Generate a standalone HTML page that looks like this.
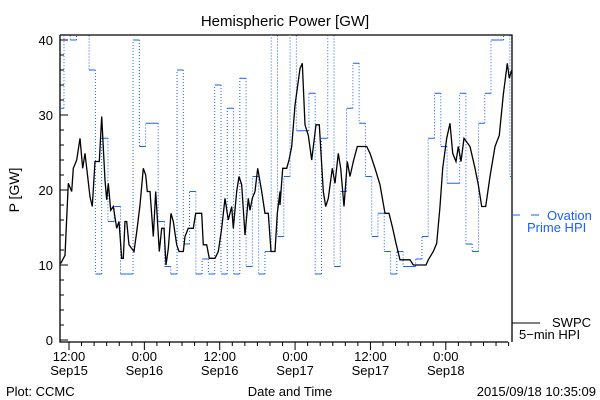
<!DOCTYPE html>
<html><head><meta charset="utf-8"><style>
html,body{margin:0;padding:0;background:#fff;}
svg{display:block;font-family:"Liberation Sans",sans-serif;}
</style></head><body>
<svg id="chart" width="600" height="400" viewBox="0 0 600 400" xmlns="http://www.w3.org/2000/svg">
<rect x="0" y="0" width="600" height="400" fill="#fff"/>
<text x="285" y="26" font-size="15" text-anchor="middle">Hemispheric Power [GW]</text>
<text x="0" y="0" font-size="14" text-anchor="middle" transform="translate(19,190) rotate(-90)">P [GW]</text>
<text x="290" y="396" font-size="13" text-anchor="middle">Date and Time</text>
<text x="6" y="396" font-size="13">Plot: CCMC</text>
<text x="596" y="396" font-size="13" text-anchor="end">2015/09/18 10:35:09</text>
<g id="axes"></g>
<g id="hpi"></g>
<g id="swpc"></g>
<g>
<line x1="512" y1="215" x2="520" y2="215" stroke="#1a5fff" stroke-width="1"/>
<line x1="531" y1="215" x2="539" y2="215" stroke="#1a5fff" stroke-width="1"/>
<text x="547" y="220" font-size="13" fill="#1a5fff">Ovation</text>
<text x="527" y="232" font-size="13" fill="#1a5fff">Prime HPI</text>
</g>
<g>
<line x1="512" y1="323" x2="540" y2="323" stroke="#000" stroke-width="1"/>
<text x="552" y="327" font-size="13">SWPC</text>
<text x="519" y="339" font-size="13">5−min HPI</text>
</g>
</svg>
<script>
// hours relative to 12:00 Sep15
const hpiStart = -1.8;
const hpiValues = [30.9,41,40,41,41,36,8.8,26.9,15.8,17.8,8.8,8.8,40,25.8,28.9,28.9,15.8,9.8,8.8,36,12.8,19.8,8.8,10.8,8.8,34,8.8,30.9,8.8,34.9,9.8,21.8,8.8,11.8,41,13.8,21.8,41,27.9,27.9,32.9,8.8,26.9,41,9.8,19.8,30.9,36.9,28.9,21.8,13.8,16.9,11.8,8.8,11.8,9.8,9.8,10.8,13.8,26.9,32.9,25.8,20.9,20.9,32.9,12.8,11.8,28.9,32.9,40,40,41,21.8];
const swpcHours1 = [62,75,85,95,100,110,120,128,135,150,157,165,178,185,195,200,205,212,220,230,237,245,250,255,260,267,275,282,290,300,310,317,322,330,340,347,358,365,372,378,385,393,400,410,417,430,435,445,460,467,485,490,500,508,525,535,545,555,565,575,580,590,597,605,615,625,630,637,645,653,665,675,685,693,705,712,720];
const swpcVals1 = [10.2,11.3,20.9,19.8,22.9,24,26.9,22.9,24.9,19.1,17.8,23.8,23.8,29.8,21.3,18.7,20.9,17.3,17.8,14.9,15.8,10.9,10.9,15.8,15.8,12.7,12.2,11.8,14.4,18,22.9,22,19.8,19.8,13.8,19.8,11.8,14.9,14.9,10,12.2,16.9,15.8,12.7,11.8,11.8,13.8,14.9,14.9,16.9,16.9,12.7,12.7,10.9,10.9,11.8,14.9,18.9,16,17.8,14.9,19.8,21.8,20.7,14,18.9,17.3,18.9,19.8,22.9,19.8,16.9,16.9,11.8,11.8,16.9,19.8];
const swpcHours2 = [30,38,50,57,65,75,90,97,105,115,125,138,148,160,167,175,187,195,205,212,222,232,240,250,262,290,300,315,330,345,357,368,378,390,420,430,468,475,490,500,510,518,530,540,548,558,565,573,582,600,615,625,635,647,660,675,688,700,712,718,725];
const swpcVals2 = [18,22.9,22.9,24,25.8,31.3,36.2,36.9,28.7,27.3,24,28.7,28.7,19.8,17.8,18.9,22.9,20.9,24.9,22.9,17.8,23.8,21.8,23.8,25.8,25.8,24.9,22.9,20.7,16.9,16.9,14.9,12.9,10.7,10.7,10,10,10.7,11.8,12.9,17.8,22.9,26.9,28.9,24.9,23.8,25.8,23.8,26.9,25.8,22.9,20.7,17.8,17.8,21.8,25.8,27.3,32.7,36.9,34.9,36];
const yTicks = [0,10,20,30,40];
const xTickHours = [0,12,24,36,48,60];
const xTickTimes = ["12:00","0:00","12:00","0:00","12:00","0:00"];
const xTickDates = ["Sep15","Sep16","Sep16","Sep17","Sep17","Sep18"];

const L=60,R=512,T=35,B=342;
const hMin=-1.5,hMax=70.5;
function xs(h){return 69+6.28*h;}
function ys(v){return 340-7.5*v;}
const NS="http://www.w3.org/2000/svg";
function mk(tag,attrs,parent){const e=document.createElementNS(NS,tag);for(const k in attrs)e.setAttribute(k,attrs[k]);parent.appendChild(e);return e;}

const axes=document.getElementById('axes');
const frame=mk('path',{d:`M${L},${T} L${R},${T} L${R},${B} M${L},${T} L${L},${B} L${R-4},${B}`,fill:'none',stroke:'#000','stroke-width':1.3},axes);


for(let v=0;v<=40;v+=2){
  const major=v%10===0;
  const t=mk('line',{x1:L,x2:L+(major?8:4),y1:ys(v),y2:ys(v),stroke:'#000'},axes);
  
  
}
yTicks.forEach(v=>{
  const t=mk('text',{x:L-7,y:ys(v)+5,'font-size':13,'text-anchor':'end'},axes);
  t.textContent=v;
  
  
});
for(let h=0;h<=70;h+=2){
  const major=h%12===0;
  const t=mk('line',{x1:xs(h),x2:xs(h),y1:B,y2:B+(major?8:4),stroke:'#000'},axes);
  
  
}
xTickHours.forEach((h,i)=>{
  const a=mk('text',{x:xs(h),y:361,'font-size':13,'text-anchor':'middle'},axes);
  a.textContent=xTickTimes[i];
  
  
  const b=mk('text',{x:xs(h),y:375,'font-size':13,'text-anchor':'middle'},axes);
  b.textContent=xTickDates[i];
  
  
});
// clip
const defs=mk('defs',{},document.getElementById('chart'));
const cp=mk('clipPath',{id:'clip'},defs);
mk('rect',{x:L,y:T,width:R-L,height:B-T},cp);

// HPI steps
const hpi=document.getElementById('hpi');
hpi.setAttribute('clip-path','url(#clip)');
let prev=null;
hpiValues.forEach((v,i)=>{
  const h0=hpiStart+i,h1=h0+1;
  const seg=mk('line',{x1:xs(h0),x2:xs(h1),y1:ys(v),y2:ys(v),stroke:'#1a5fff','stroke-width':1},hpi);
  
  
  if(prev!==null){
    const vl=mk('line',{x1:xs(h0),x2:xs(h0),y1:ys(prev),y2:ys(v),stroke:'#1a5fff','stroke-width':1,'stroke-dasharray':'1 2'},hpi);
    
    
  }
  prev=v;
});
// SWPC line
const pts=[];
swpcHours1.forEach((z,i)=>pts.push([(z/3-29)/6.28,swpcVals1[i]]));
swpcHours2.forEach((z,i)=>pts.push([(z/3+201)/6.28,swpcVals2[i]]));
const sw=document.getElementById('swpc');
sw.setAttribute('clip-path','url(#clip)');
const line=mk('polyline',{points:pts.map(p=>xs(p[0]).toFixed(1)+','+ys(p[1]).toFixed(1)).join(' '),fill:'none',stroke:'#000','stroke-width':1.3},sw);


</script>
</body></html>
